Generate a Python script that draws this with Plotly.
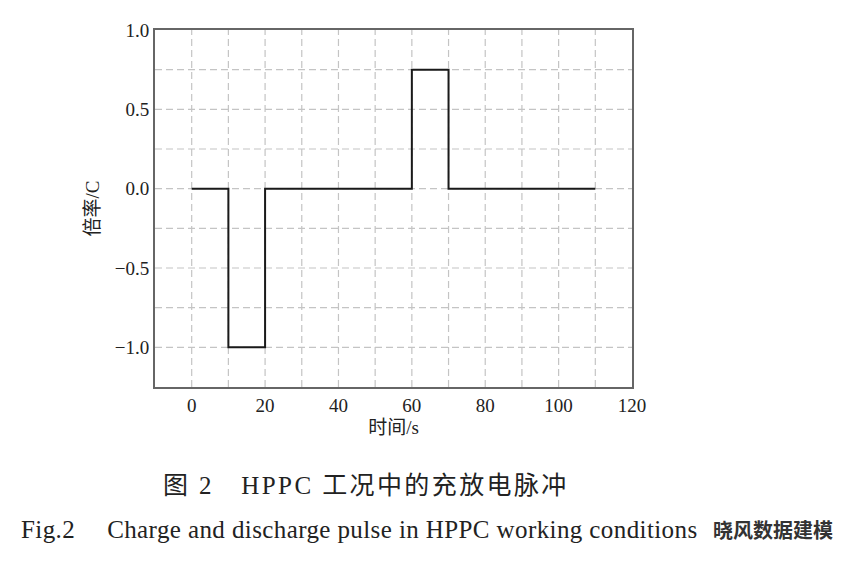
import plotly.graph_objects as go

# HPPC pulse: time (s) and rate (C), step changes
time_s = [0, 10, 20, 60, 70, 110]
rate_c = [0, -1.0, 0, 0.75, 0, 0]

x_ticks = [0, 20, 40, 60, 80, 100, 120]
y_ticks = [-1.0, -0.5, 0.0, 0.5, 1.0]
y_tick_text = ["\u22121.0", "\u22120.5", "0.0", "0.5", "1.0"]

serif = "Liberation Serif, Times New Roman, serif"
cjk = "Liberation Serif, Noto Sans CJK SC, serif"
grid = dict(color="#c4c4c4", width=1.2, dash="7px,4px")

fig = go.Figure()
fig.add_trace(go.Scatter(
    x=time_s, y=rate_c, mode="lines", line_shape="hv",
    line=dict(color="#1a1a1a", width=2), showlegend=False
))

fig.update_xaxes(
    range=[-10, 120], tickvals=x_ticks, ticks="",
    showgrid=False, zeroline=False,
    showline=True, mirror=True, linecolor="#666", linewidth=2,
    tickfont=dict(family=serif, size=19, color="#222"),
    title=dict(text="时间/s", font=dict(family=cjk, size=19, color="#222"), standoff=6),
)
fig.update_yaxes(
    range=[-1.25, 1.0], tickvals=y_ticks, ticktext=y_tick_text, ticks="",
    showgrid=False, zeroline=False,
    showline=True, mirror=True, linecolor="#666", linewidth=2,
    tickfont=dict(family=serif, size=19, color="#222"),
    title=dict(text="倍率/C", font=dict(family=cjk, size=19, color="#222"), standoff=10),
)

# dashed grid every 10 s and every 0.25 C
for gx in range(0, 120, 10):
    fig.add_shape(type="line", x0=gx, x1=gx, y0=-1.25, y1=1.0, xref="x", yref="y",
                  line=grid, layer="below")
for gy in [-1.0, -0.75, -0.5, -0.25, 0.0, 0.25, 0.5, 0.75]:
    fig.add_shape(type="line", x0=-10, x1=120, y0=gy, y1=gy, xref="x", yref="y",
                  line=grid, layer="below")

fig.add_annotation(text="<span style='letter-spacing:2.4px'>图 2\u2003HPPC 工况中的充放电脉冲</span>",
                   xref="paper", yref="paper",
                   x=0.442, y=-0.276, xanchor="center", yanchor="middle", showarrow=False,
                   font=dict(family=cjk, size=25, color="#222"))
fig.add_annotation(text="<span style='letter-spacing:0.4px'>Fig.2\u2003 Charge and discharge pulse in HPPC working conditions</span>",
                   xref="paper", yref="paper", x=-0.285, y=-0.40, xanchor="left",
                   yanchor="middle", showarrow=False,
                   font=dict(family=serif, size=25, color="#222"))
fig.add_annotation(text="<b>晓风数据建模</b>", xref="paper", yref="paper",
                   x=1.426, y=-0.40, xanchor="right", yanchor="middle", showarrow=False,
                   bgcolor="white", font=dict(family="Noto Sans CJK SC", size=20, color="#333"))

fig.update_layout(
    width=864, height=569,
    margin=dict(l=147, r=240, t=14, b=190),
    plot_bgcolor="white", paper_bgcolor="white",
)
fig.write_html("out.html")
